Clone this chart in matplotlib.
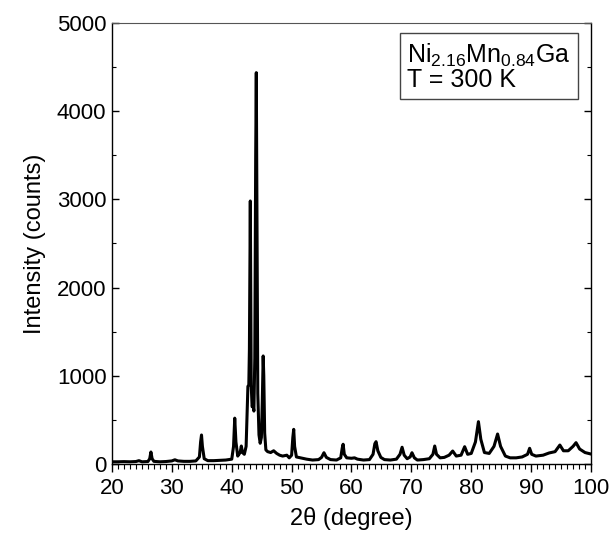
import matplotlib
matplotlib.use("Agg")
import matplotlib.pyplot as plt
from matplotlib.ticker import MultipleLocator

# 2theta (degree) and intensity (counts)
two_theta = [20, 21, 22, 23, 24, 24.5, 25, 26, 26.3, 26.5, 26.7, 27, 28, 29, 30, 30.5, 31,
             32, 33, 34, 34.6, 34.8, 34.95, 35.1, 35.4, 36, 37, 38, 39, 40, 40.3, 40.5, 40.7,
             41.0, 41.4, 41.6, 41.8, 42.1, 42.4, 42.7, 42.85, 42.95, 43.1, 43.25, 43.4, 43.55,
             43.7, 43.85, 44.0, 44.1, 44.2, 44.35, 44.55, 44.75, 44.95, 45.1, 45.25, 45.35,
             45.5, 45.7, 46.0, 46.5, 47.0, 47.5, 48, 48.5, 49.2, 49.6, 50.0, 50.2, 50.35, 50.5,
             50.8, 51.5, 52.5, 53.5, 54.5, 55.0, 55.4, 55.8, 56.5, 57.5, 58.2, 58.45, 58.6,
             58.8, 59.2, 60, 60.5, 61, 62, 63, 63.6, 63.9, 64.1, 64.4, 64.9, 65.5, 66.5, 67.5,
             68.1, 68.45, 68.8, 69.3, 69.8, 70.1, 70.5, 71, 72, 73, 73.6, 73.9, 74.2, 74.8,
             75.5, 76.3, 76.9, 77.5, 78.3, 78.9, 79.4, 80.0, 80.7, 81.2, 81.6, 82.2, 83, 83.8,
             84.4, 84.9, 85.7, 86.5, 87.5, 88.5, 89.4, 89.75, 90.1, 90.8, 92, 93, 94, 94.8,
             95.4, 96.2, 97.0, 97.5, 98.1, 99, 100]
counts = [25, 25, 27, 25, 28, 38, 25, 28, 60, 136, 60, 30, 25, 28, 35, 48, 35,
          30, 30, 35, 80, 250, 329, 200, 60, 38, 38, 42, 45, 55, 200, 520, 250,
          90, 130, 204, 130, 110, 200, 880, 896, 1300, 2982, 900, 650, 669,
          600, 1200, 3500, 4437, 3000, 800, 330, 235, 300, 700, 1225, 1000,
          350, 160, 140, 130, 150, 120, 100, 90, 100, 70, 100, 300, 393, 200,
          80, 70, 55, 45, 50, 75, 128, 75, 50, 45, 70, 180, 224,
          110, 70, 65, 70, 55, 45, 50, 110, 230, 253, 150, 75, 50, 45, 55,
          110, 190, 100, 60, 80, 128, 70, 45, 50, 60, 110, 204, 110, 70,
          75, 100, 147, 90, 100, 196, 110, 120, 250, 480, 280, 130, 120, 200,
          340, 200, 90, 70, 70, 80, 110, 178, 110, 90, 100, 125, 140, 215,
          150, 150, 200, 242, 170, 130, 113]

plt.rcParams['font.family'] = ['Liberation Sans', 'DejaVu Sans']
plt.rcParams['mathtext.fontset'] = 'custom'
plt.rcParams['mathtext.rm'] = 'Liberation Sans'
plt.rcParams['mathtext.it'] = 'Liberation Sans'

fig = plt.figure(figsize=(6.13, 5.42), dpi=100)
ax = fig.add_axes([0.1827, 0.1439, 0.7814, 0.8137])

ax.plot(two_theta, counts, color='black', linewidth=2.2)

ax.set_xlim(20, 100)
ax.set_ylim(0, 5000)
ax.xaxis.set_major_locator(MultipleLocator(10))
ax.xaxis.set_minor_locator(MultipleLocator(1))
ax.yaxis.set_major_locator(MultipleLocator(1000))
ax.yaxis.set_minor_locator(MultipleLocator(500))

ax.tick_params(axis='x', which='major', direction='out', length=6, width=1, labelsize=16, pad=4)
ax.tick_params(axis='x', which='minor', direction='out', length=3.5, width=0.8)
ax.tick_params(axis='y', which='major', direction='in', length=5, width=1, labelsize=16,
               right=True, pad=4)
ax.tick_params(axis='y', which='minor', direction='in', length=3, width=0.8, right=True)

ax.spines['top'].set_linestyle((0, (1, 1)))
ax.spines['top'].set_linewidth(0.8)
ax.spines['top'].set_color('#555555')
for s in ['left', 'bottom', 'right']:
    ax.spines[s].set_linewidth(1.0)

ax.set_xlabel('2θ (degree)', fontsize=17, labelpad=6)
ax.set_ylabel('Intensity (counts)', fontsize=17, labelpad=8)

ax.text(0.958, 0.958, 'Ni$_{2.16}$Mn$_{0.84}$Ga\nT = 300 K', transform=ax.transAxes,
        ha='right', va='top', multialignment='left', fontsize=18, linespacing=0.95,
        bbox=dict(boxstyle='square,pad=0.3', facecolor='white', edgecolor='#444444', linewidth=1))

fig.savefig('out.png', dpi=100)
